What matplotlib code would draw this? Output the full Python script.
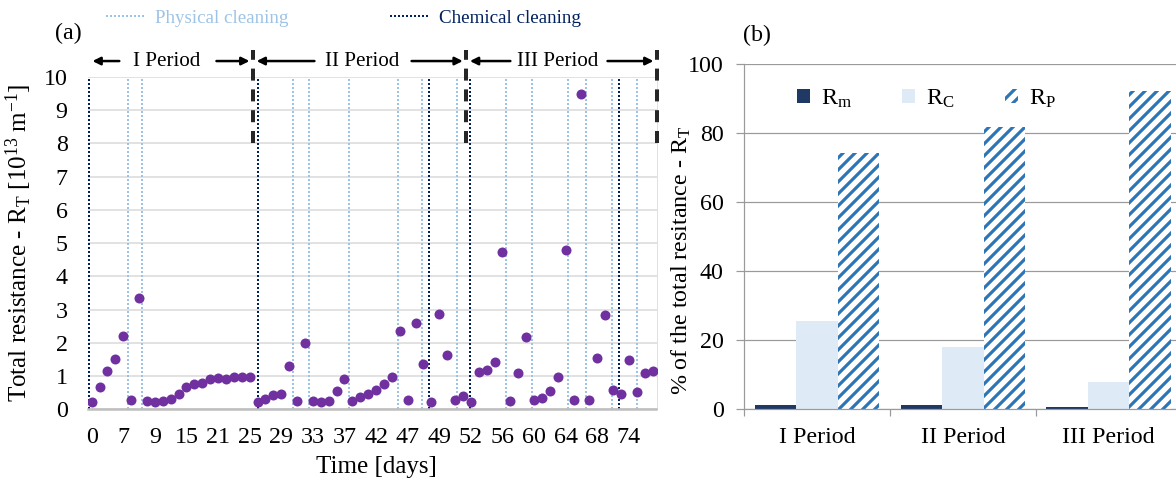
import numpy as np
import matplotlib
matplotlib.use('Agg')
import matplotlib.pyplot as plt
from matplotlib.lines import Line2D

plt.rcParams['font.family'] = ['Liberation Serif', 'DejaVu Serif']
plt.rcParams['mathtext.fontset'] = 'custom'
plt.rcParams['mathtext.rm'] = 'Liberation Serif'
plt.rcParams['mathtext.it'] = 'Liberation Serif:italic'
plt.rcParams['hatch.linewidth'] = 3.2

# --- данные панели (a) ---
day_labels = ['0', '7', '9', '15', '21', '25', '29', '33', '37', '42', '47', '49',
              '52', '56', '60', '64', '68', '74']
resistance = [0.21, 0.67, 1.16, 1.52, 2.20, 0.28, 3.34, 0.26, 0.23, 0.26, 0.31, 0.46,
              0.68, 0.77, 0.79, 0.91, 0.93, 0.91, 0.97, 0.97, 0.96,
              0.21, 0.30, 0.42, 0.47, 1.29, 0.25, 2.01, 0.25, 0.23, 0.25, 0.56,
              0.91, 0.25, 0.38, 0.45, 0.59, 0.76, 0.96, 2.35, 0.28, 2.59, 1.35,
              0.21, 2.88, 1.63, 0.28, 0.41,
              0.21, 1.12, 1.19, 1.42, 4.74, 0.25, 1.09, 2.17, 0.28, 0.35, 0.55,
              0.98, 4.80, 0.28, 9.50, 0.28, 1.55, 2.85, 0.59, 0.45, 1.49, 0.51,
              1.09, 1.16]
# моменты промывок (в единицах номера измерения)
chemical_cleaning = [-0.34, 21.09, 42.7, 47.9, 66.8]
physical_cleaning = [4.63, 6.33, 25.44, 27.5, 32.57, 38.77, 41.77, 46.28, 52.47,
                     55.7, 60.33, 62.58, 65.9, 69.06]
period_ends = [-0.4, 20.38, 47.38, 71.52]
period_names = ['I Period', 'II Period', 'III Period']
period_text_x = [9.5, 34.2, 59.0]

# --- данные панели (b) ---
periods = ['I Period', 'II Period', 'III Period']
r_m = [1.2, 1.2, 0.7]
r_c = [25.7, 18.1, 7.9]
r_p = [74.2, 81.8, 92.2]

W, H, DPI = 1176, 483, 72
fig = plt.figure(figsize=(W / DPI, H / DPI), dpi=DPI)

# ================= (a) =================
ax = fig.add_axes([87.7 / W, 73.7 / H, 568.8 / W, 332.3 / H])
idx = np.arange(len(resistance))

for x in physical_cleaning:
    ax.plot([x, x], [0, 10], color='#9DC3E6', lw=2, ls=(0, (1, 1)), zorder=2)
for x in chemical_cleaning:
    ax.plot([x, x], [0, 10], color='#002060', lw=2, ls=(0, (1, 1)), zorder=2)

ax.plot(idx, resistance, 'o', color='#7030A0', ms=10, mec='none', zorder=4)

ax.set_xlim(-0.5, 71.5)
ax.set_ylim(0, 10)
ax.set_yticks(range(0, 11))
ax.set_xticks(idx[::4][:len(day_labels)])
ax.set_xticklabels(day_labels)
ax.tick_params(axis='both', length=0, labelsize=24)
ax.tick_params(axis='x', pad=18)
ax.tick_params(axis='y', pad=20)
ax.grid(axis='y', color='#D9D9D9', lw=1.5)
ax.set_axisbelow(True)
for s in ['top', 'left']:
    ax.spines[s].set_visible(False)
ax.spines['right'].set_color('#D9D9D9')
ax.spines['bottom'].set_color('#BFBFBF')
ax.spines['bottom'].set_linewidth(2.5)

ax.set_ylabel(r'Total resistance - R$_\mathrm{T}$ [10$^\mathrm{13}$ m$^\mathrm{-1}$]',
              fontsize=25)
ax.yaxis.set_label_coords(-0.094, 0.5)
ax.set_xlabel('Time [days]', fontsize=25)
ax.xaxis.set_label_coords(0.508, -0.14)

# разделители периодов
for x in period_ends[1:]:
    ax.plot([x, x], [8.0, 10.82], color='#262626', lw=4, ls=(0, (3, 2.2)),
            clip_on=False, zorder=5)

# стрелки и подписи периодов
y_arr = 10.48
for i, name in enumerate(period_names):
    xc = period_text_x[i]
    ax.text(xc, y_arr, name, fontsize=21, ha='center', va='center')
    left = period_ends[i] + 0.5
    right = period_ends[i + 1] - 0.4
    for tail, head in [(xc - 6.0, left), (xc + 6.3, right)]:
        ax.annotate('', xy=(head, y_arr), xytext=(tail, y_arr),
                    arrowprops=dict(arrowstyle='-|>', color='black', lw=2.5,
                                    mutation_scale=16, shrinkA=0, shrinkB=0),
                    annotation_clip=False)

fig.text(55 / W, 1 - 33 / H, '(a)', fontsize=24, va='center')

handles = [Line2D([], [], color='#9DC3E6', lw=2, ls=(0, (1, 1))),
           Line2D([], [], color='#002060', lw=2, ls=(0, (1, 1)))]
leg = fig.legend(handles, ['Physical cleaning', 'Chemical cleaning'],
                 loc='center left', bbox_to_anchor=(106 / W, 1 - 18 / H),
                 ncol=2, frameon=False, fontsize=19, handlelength=2.0,
                 handletextpad=0.6, columnspacing=5.3, borderpad=0,
                 borderaxespad=0)
for t, c in zip(leg.get_texts(), ['#9DC3E6', '#002060']):
    t.set_color(c)

# ================= (b) =================
ax2 = fig.add_axes([744.3 / W, 73.7 / H, 437.1 / W, 345.3 / H])
pos = np.arange(len(periods))
bw = 0.285
ax2.bar(pos - bw, r_m, bw, color='#1F3864', label=r'R$_\mathrm{m}$')
ax2.bar(pos, r_c, bw, color='#DEEBF7', label=r'R$_\mathrm{C}$')
ax2.bar(pos + bw, r_p, bw, color='white', edgecolor='#2E75B6', lw=0,
        hatch='//', label=r'R$_\mathrm{P}$')

ax2.set_xlim(-0.5, 2.5)
ax2.set_ylim(0, 100)
ax2.set_yticks(range(0, 101, 20))
ax2.set_xticks(pos)
ax2.set_xticklabels(periods)
ax2.set_xticks([-0.5, 0.5, 1.5, 2.5], minor=True)
ax2.tick_params(axis='x', which='major', length=0, labelsize=24, pad=18)
ax2.tick_params(axis='x', which='minor', length=7, color='#9A9A9A', width=1.2)
ax2.tick_params(axis='y', length=7.6, color='#9A9A9A', width=1.2,
                labelsize=24, pad=13)
ax2.grid(axis='y', color='#9A9A9A', lw=1.2)
ax2.set_axisbelow(True)
for s in ['top', 'right']:
    ax2.spines[s].set_visible(False)
for s in ['left', 'bottom']:
    ax2.spines[s].set_color('#9A9A9A')
    ax2.spines[s].set_linewidth(1.2)

ax2.set_ylabel(r'% of the total resitance - R$_\mathrm{T}$', fontsize=24)
ax2.yaxis.set_label_coords(-0.117, 0.43)

ax2.legend(loc='center left', bbox_to_anchor=(0.12, 0.9), ncol=3,
           frameon=False, fontsize=24, handlelength=0.55, handleheight=0.55,
           handletextpad=0.45, columnspacing=2.1, borderpad=0, borderaxespad=0)

fig.text(743 / W, 1 - 35 / H, '(b)', fontsize=24, va='center')

fig.savefig('out.png', dpi=DPI)
